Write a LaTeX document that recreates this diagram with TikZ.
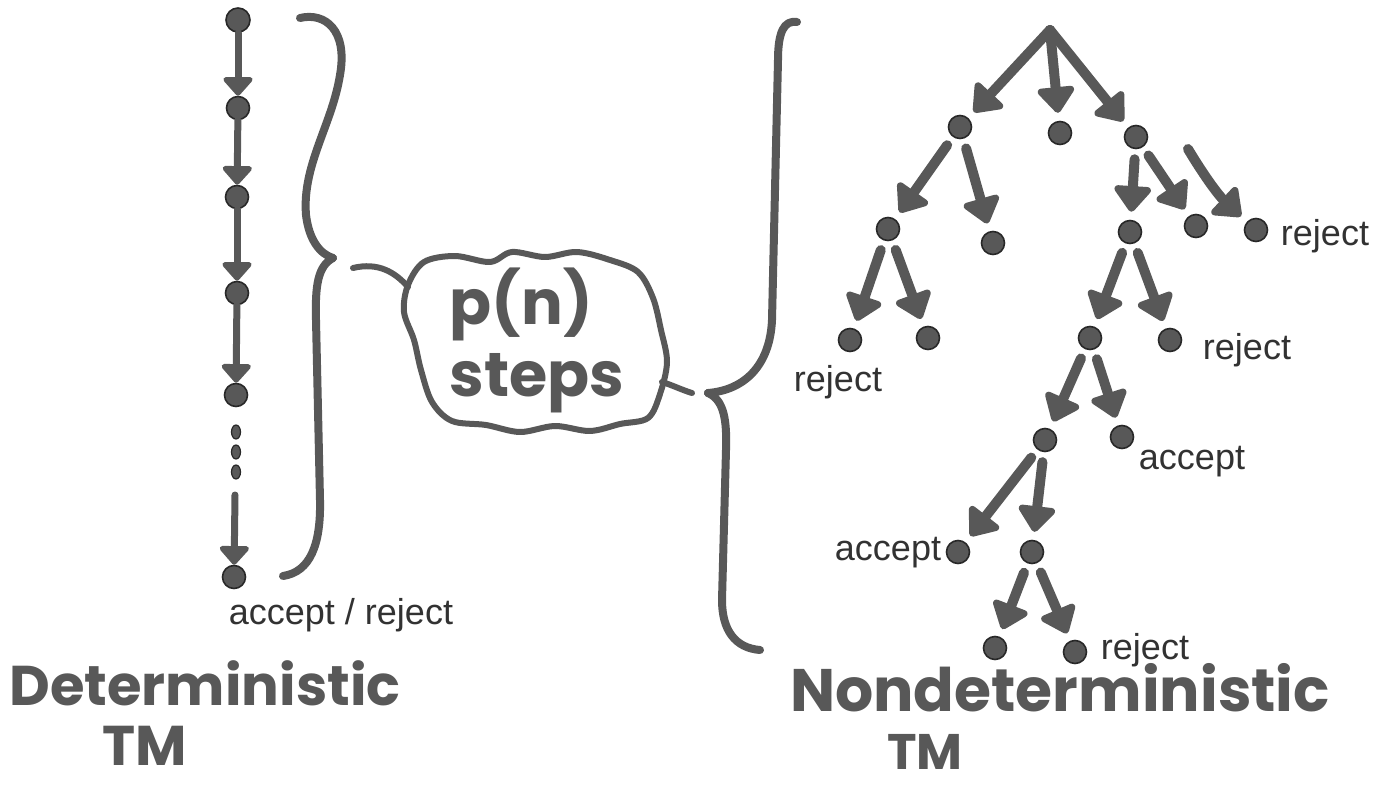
\documentclass[tikz,border=0pt]{standalone}
\usepackage{fontspec}
\usetikzlibrary{arrows.meta,shapes.geometric}
\newfontfamily\handfont{Poppins}
\setmainfont{Liberation Sans}
\definecolor{ink}{RGB}{88,88,88}
\definecolor{inkdark}{RGB}{40,40,40}
\definecolor{txt}{RGB}{50,50,50}
\begin{document}
\begin{tikzpicture}[x=0.5pt,y=-0.5pt,
  dot/.style={circle,fill=ink,draw=inkdark,line width=0.8pt,inner sep=0pt,minimum size=11.5pt},
  rootdot/.style={circle,fill=ink,inner sep=0pt,minimum size=5pt},
  edot/.style={ellipse,fill=ink,draw=inkdark,line width=0.6pt,inner sep=0pt,minimum width=4.5pt,minimum height=7pt},
  tarrow/.style={draw=ink,line width=5pt,line cap=round,-{Triangle[length=14pt,width=21pt,round]},shorten <=5pt,shorten >=4pt},
  rarrow/.style={tarrow,shorten <=0pt},
  carrow/.style={draw=ink,line width=3.5pt,line cap=round,-{Triangle[length=10pt,width=17pt,round]}},
  bracestyle/.style={draw=ink,line width=4pt,line cap=round,line join=round},
  tailstyle/.style={draw=ink,line width=3pt,line cap=round},
  cloudline/.style={draw=ink,line width=3pt,line join=round},
  lbl/.style={text=txt,font=\fontsize{18}{20}\selectfont,inner sep=0pt},
  title/.style={text=ink,font=\handfont\bfseries\fontsize{28}{30}\selectfont,inner sep=0pt},
  bigtitle/.style={text=ink,font=\handfont\bfseries\fontsize{30}{32}\selectfont,inner sep=0pt}
]
\useasboundingbox (0,0) rectangle (1394,792);

% ---------- deterministic chain ----------
\node[dot,minimum size=12pt] (d0) at (238,20) {};
\node[dot] (d1) at (238,108) {};
\node[dot] (d2) at (237,197) {};
\node[dot] (d3) at (237,293) {};
\node[dot] (d4) at (236,395) {};
\node[edot] (e1) at (236,432) {};
\node[edot] (e2) at (236,452) {};
\node[edot] (e3) at (236,472) {};
\coordinate (s5) at (235,495);
\node[dot] (d5) at (234,577) {};
\draw[carrow] (d0) -- (d1);
\draw[carrow] (d1) -- (d2);
\draw[carrow] (d2) -- (d3);
\draw[carrow] (d3) -- (d4);
\draw[carrow] (s5) -- (d5);

% ---------- brace 1 ----------
\coordinate (b1top) at (300,18);
\coordinate (b1cusp) at (333,258);
\coordinate (b1end) at (283,576);
\draw[bracestyle] (b1top) .. controls (325,12) and (348,30) .. (340,75)
  .. controls (332,125) and (302,165) .. (306,215)
  .. controls (309,240) and (320,254) .. (b1cusp);
\draw[bracestyle] (b1cusp) .. controls (318,266) and (315,285) .. (316,320)
  -- (320,500) .. controls (321,545) and (310,572) .. (b1end);

% ---------- cloud ----------
\draw[cloudline] plot[smooth cycle,tension=0.55] coordinates {
  (408,285) (424,262) (455,256) (490,262) (512,252) (545,257) (577,252) (610,260)
  (638,272) (653,298) (661,330) (667,362) (660,394) (648,418) (620,424) (590,431)
  (555,426) (520,432) (486,425) (452,421) (432,402) (421,370) (414,340) (404,312)};
\node[align=left,text=ink,font=\handfont\bfseries\fontsize{31}{36}\selectfont,
  inner sep=0pt,minimum width=128pt,minimum height=86pt] (cl) at (537,340) {p(n)\\steps};
\coordinate (t1) at (353,268);
\coordinate (c1in) at (408,287);
\coordinate (c2out) at (662,382);
\coordinate (t2) at (692,393);
\draw[tailstyle] (t1) .. controls (378,262) and (395,272) .. (c1in);
\draw[tailstyle] (c2out) .. controls (672,385) and (682,390) .. (t2);

% ---------- brace 2 ----------
\coordinate (b2top) at (797,22);
\coordinate (b2cusp) at (708,393);
\coordinate (b2end) at (760,650);
\draw[bracestyle] (b2top) .. controls (784,20) and (778,32) .. (778,60)
  -- (772,320) .. controls (770,365) and (745,390) .. (b2cusp);
\draw[bracestyle] (b2cusp) .. controls (724,400) and (727,420) .. (726,450)
  -- (722,600) .. controls (722,630) and (735,648) .. (b2end);

% ---------- nondeterministic tree ----------
\node[rootdot] (r) at (1050,30) {};
\node[dot] (a) at (960,127) {};
\node[dot] (b) at (1060,133) {};
\node[dot] (c) at (1136,137) {};
\node[dot] (a1) at (888,229) {};
\node[dot] (a2) at (993,243) {};
\node[dot] (c1) at (1130,232) {};
\node[dot] (c2) at (1196,226) {};
\node[dot] (c3) at (1256,230) {};
\node[dot] (a11) at (850,340) {};
\node[dot] (a12) at (928,338) {};
\node[dot] (c11) at (1090,338) {};
\node[dot] (c12) at (1170,340) {};
\node[dot] (c111) at (1045,440) {};
\node[dot] (c112) at (1122,437) {};
\node[dot] (f1) at (958,552) {};
\node[dot] (f2) at (1032,552) {};
\node[dot] (g1) at (995,648) {};
\node[dot] (g2) at (1075,652) {};

\draw[rarrow] (r.center) -- (a);
\draw[rarrow] (r.center) -- (b);
\draw[rarrow] (r.center) -- (c);
\foreach \p/\q in {a/a1,a/a2,c/c1,c/c2,a1/a11,a1/a12,c1/c11,c1/c12,c11/c111,c11/c112,c111/f1,c111/f2,f2/g1,f2/g2}
  \draw[tarrow] (\p) -- (\q);
\coordinate (cs) at (1188,149);
\draw[tarrow,shorten <=0pt] (cs) to[bend right=8] (c3);

% ---------- labels ----------
\node[lbl] (l1) at (1325,236) {reject};
\node[lbl] (l2) at (838,382) {reject};
\node[lbl] (l3) at (1247,350) {reject};
\node[lbl] (l4) at (1192,462) {accept};
\node[lbl] (l5) at (888,553) {accept};
\node[lbl] (l6) at (1145,650) {reject};
\node[lbl] (l7) at (341,615) {accept / reject};

% ---------- titles ----------
\node[title] (t3) at (205,683) {Deterministic};
\node[title] (t4) at (145,746) {TM};
\node[bigtitle] (t5) at (1060,688) {Nondeterministic};
\node[title,font=\handfont\bfseries\fontsize{25}{27}\selectfont] (t6) at (925,752) {TM};
\end{tikzpicture}
\end{document}
